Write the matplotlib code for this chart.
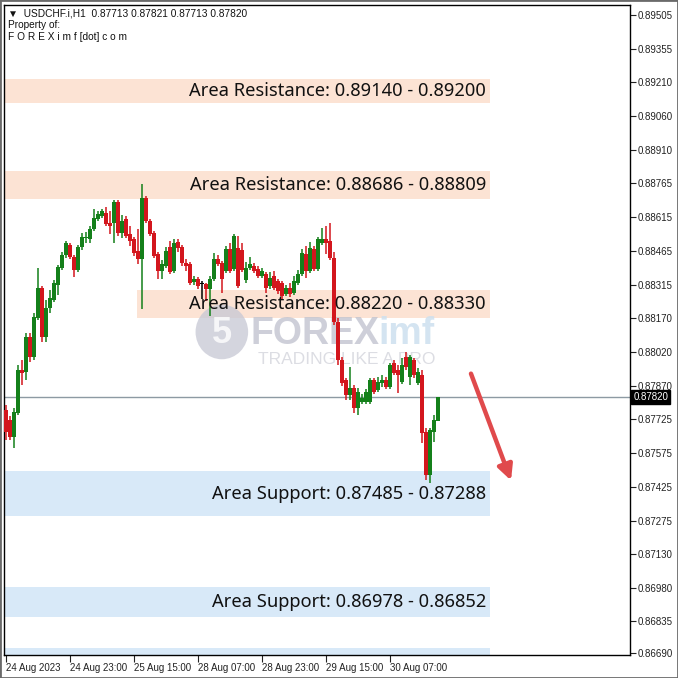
import numpy as np
import matplotlib.pyplot as plt
from matplotlib.patches import Rectangle, Circle
import matplotlib.transforms as mtransforms

# H1 candles, USDCHF, 24 Aug 2023 - 30 Aug 2023
opens = [0.87763, 0.87719, 0.87644, 0.87750, 0.87940, 0.87931, 0.88085, 0.87997, 0.88169, 0.88301,
         0.88085, 0.88213, 0.88248, 0.88314, 0.88389, 0.88447, 0.88491, 0.88438, 0.88381, 0.88482,
         0.88522, 0.88517, 0.88561, 0.88605, 0.88619, 0.88632, 0.88588, 0.88588, 0.88680, 0.88544,
         0.88605, 0.88539, 0.88517, 0.88464, 0.88429, 0.88698, 0.88597, 0.88544, 0.88451, 0.88376,
         0.88398, 0.88482, 0.88376, 0.88504, 0.88482, 0.88411, 0.88407, 0.88328, 0.88341, 0.88319,
         0.88319, 0.88297, 0.88341, 0.88429, 0.88411, 0.88376, 0.88473, 0.88385, 0.88478, 0.88469,
         0.88336, 0.88389, 0.88398, 0.88385, 0.88354, 0.88363, 0.88310, 0.88354, 0.88332, 0.88323,
         0.88275, 0.88301, 0.88279, 0.88323, 0.88363, 0.88451, 0.88376, 0.88473, 0.88385, 0.88500,
         0.88517, 0.88508, 0.88433, 0.88151, 0.87984, 0.87895, 0.87829, 0.87860, 0.87772, 0.87798,
         0.87798, 0.87798, 0.87895, 0.87851, 0.87882, 0.87895, 0.87865, 0.87970, 0.87940, 0.87887,
         0.87997, 0.87909, 0.87984, 0.87882, 0.87917, 0.87666, 0.87476, 0.87666, 0.87713]
highs = [0.87785, 0.87737, 0.87772, 0.87962, 0.87984, 0.88103, 0.88103, 0.88191, 0.88389, 0.88310,
         0.88248, 0.88292, 0.88336, 0.88403, 0.88460, 0.88508, 0.88500, 0.88447, 0.88491, 0.88544,
         0.88548, 0.88575, 0.88650, 0.88641, 0.88650, 0.88658, 0.88641, 0.88689, 0.88689, 0.88623,
         0.88619, 0.88575, 0.88526, 0.88561, 0.88760, 0.88707, 0.88605, 0.88553, 0.88460, 0.88425,
         0.88482, 0.88508, 0.88517, 0.88517, 0.88491, 0.88429, 0.88416, 0.88354, 0.88350, 0.88332,
         0.88323, 0.88354, 0.88455, 0.88447, 0.88420, 0.88486, 0.88500, 0.88539, 0.88530, 0.88500,
         0.88416, 0.88438, 0.88411, 0.88398, 0.88389, 0.88372, 0.88372, 0.88376, 0.88341, 0.88332,
         0.88314, 0.88323, 0.88354, 0.88381, 0.88473, 0.88486, 0.88504, 0.88486, 0.88526, 0.88566,
         0.88575, 0.88588, 0.88460, 0.88169, 0.87997, 0.87904, 0.87953, 0.87873, 0.87860, 0.87834,
         0.87856, 0.87904, 0.87904, 0.87909, 0.87917, 0.87909, 0.87970, 0.87984, 0.87962, 0.87992,
         0.88019, 0.88006, 0.87992, 0.87948, 0.87940, 0.87684, 0.87684, 0.87741, 0.87821]
lows = [0.87631, 0.87631, 0.87596, 0.87741, 0.87873, 0.87895, 0.87975, 0.87984, 0.88160, 0.88063,
        0.88063, 0.88191, 0.88239, 0.88270, 0.88381, 0.88433, 0.88429, 0.88350, 0.88372, 0.88469,
        0.88500, 0.88500, 0.88553, 0.88597, 0.88610, 0.88575, 0.88539, 0.88500, 0.88530, 0.88522,
        0.88522, 0.88486, 0.88442, 0.88407, 0.88208, 0.88588, 0.88530, 0.88433, 0.88341, 0.88341,
        0.88389, 0.88363, 0.88367, 0.88460, 0.88398, 0.88376, 0.88314, 0.88314, 0.88297, 0.88253,
        0.88244, 0.88178, 0.88332, 0.88398, 0.88279, 0.88367, 0.88367, 0.88376, 0.88301, 0.88372,
        0.88323, 0.88381, 0.88367, 0.88345, 0.88345, 0.88279, 0.88297, 0.88292, 0.88275, 0.88253,
        0.88266, 0.88261, 0.88270, 0.88314, 0.88354, 0.88345, 0.88367, 0.88376, 0.88376, 0.88491,
        0.88451, 0.88425, 0.88138, 0.87962, 0.87869, 0.87807, 0.87807, 0.87750, 0.87741, 0.87790,
        0.87790, 0.87790, 0.87834, 0.87842, 0.87865, 0.87856, 0.87856, 0.87917, 0.87838, 0.87878,
        0.87940, 0.87873, 0.87904, 0.87873, 0.87618, 0.87454, 0.87441, 0.87622, 0.87713]
closes = [0.87666, 0.87644, 0.87754, 0.87940, 0.87926, 0.88085, 0.87997, 0.88173, 0.88301, 0.88085,
          0.88213, 0.88257, 0.88323, 0.88394, 0.88447, 0.88500, 0.88438, 0.88381, 0.88482, 0.88526,
          0.88526, 0.88561, 0.88610, 0.88627, 0.88641, 0.88583, 0.88575, 0.88680, 0.88544, 0.88597,
          0.88530, 0.88508, 0.88455, 0.88429, 0.88698, 0.88597, 0.88539, 0.88442, 0.88376, 0.88407,
          0.88464, 0.88372, 0.88500, 0.88478, 0.88411, 0.88398, 0.88323, 0.88341, 0.88310, 0.88319,
          0.88297, 0.88341, 0.88429, 0.88407, 0.88341, 0.88473, 0.88376, 0.88530, 0.88310, 0.88381,
          0.88389, 0.88407, 0.88376, 0.88354, 0.88376, 0.88301, 0.88345, 0.88301, 0.88288, 0.88266,
          0.88301, 0.88275, 0.88332, 0.88363, 0.88455, 0.88376, 0.88478, 0.88385, 0.88517, 0.88517,
          0.88500, 0.88433, 0.88151, 0.87984, 0.87882, 0.87829, 0.87860, 0.87772, 0.87842, 0.87816,
          0.87842, 0.87895, 0.87842, 0.87887, 0.87895, 0.87865, 0.87962, 0.87926, 0.87917, 0.87962,
          0.87953, 0.87997, 0.87917, 0.87931, 0.87662, 0.87476, 0.87675, 0.87719, 0.87820]

time_labels = ["24 Aug 2023", "24 Aug 23:00", "25 Aug 15:00", "28 Aug 07:00",
               "28 Aug 23:00", "29 Aug 15:00", "30 Aug 07:00"]
time_ticks = [0, 16, 32, 48, 64, 80, 96]

price_ticks = [0.89505, 0.89355, 0.89210, 0.89060, 0.88910, 0.88765, 0.88615, 0.88465,
               0.88315, 0.88170, 0.88020, 0.87870, 0.87725, 0.87575, 0.87425, 0.87275,
               0.87130, 0.86980, 0.86835, 0.86690]

# zones drawn on the chart: (bottom, top, label, kind, start bar)
zones = [
    (0.89117, 0.89223, "Area Resistance: 0.89140 - 0.89200", "res", -0.5),
    (0.88693, 0.88817, "Area Resistance: 0.88686 - 0.88809", "res", -0.5),
    (0.88168, 0.88292, "Area Resistance: 0.88220 - 0.88330", "res", 32.75),
    (0.87294, 0.87493, "Area Support: 0.87485 - 0.87288", "sup", -0.5),
    (0.86849, 0.86981, "Area Support: 0.86978 - 0.86852", "sup", -0.5),
    (0.86600, 0.86714, "", "sup", -0.5),
]
zone_end = 121
last_price = 0.87820

GREEN = "#14801a"
RED = "#d3161d"
RES_COLOR = "#fce3d4"
SUP_COLOR = "#d8e9f8"
AXFONT = "Liberation Sans"

fig = plt.figure(figsize=(6.78, 6.78), dpi=100)
ax = fig.add_axes([4 / 678, 23 / 678, 626 / 678, 650 / 678])

for lo, hi, label, kind, x0 in zones:
    col = RES_COLOR if kind == "res" else SUP_COLOR
    ax.add_patch(Rectangle((x0, lo), zone_end - x0, hi - lo, facecolor=col,
                           edgecolor="none", zorder=1))
    if label:
        ax.text(zone_end - 1, (lo + hi) / 2, label, ha="right", va="center",
                fontsize=13.2, family="Noto Sans", color="#111111", zorder=6)

# watermark (logo of the source)
ax.add_patch(Circle((0.348, 0.497), 0.042, transform=ax.transAxes, facecolor="#c6c7d4",
                    edgecolor="none", alpha=0.75, zorder=2))
ax.text(0.348, 0.495, "5", transform=ax.transAxes, fontsize=26, weight="bold",
        family="Liberation Sans", color="white", alpha=0.8, ha="center", va="center",
        zorder=2)
ax.text(0.393, 0.494, "FOREX", transform=ax.transAxes, fontsize=27, weight="bold",
        family="Liberation Sans", color="#c2c4d0", alpha=0.8, ha="left", va="center",
        zorder=2)
ax.text(0.598, 0.494, "imf", transform=ax.transAxes, fontsize=27, weight="bold",
        family="Liberation Sans", color="#cde0ef", alpha=0.85, ha="left", va="center",
        zorder=2)
ax.text(0.406, 0.455, "TRADING LIKE A PRO", transform=ax.transAxes,
        fontsize=12.5, family="Liberation Sans", color="#dcdde3", ha="left", va="center",
        zorder=2)

ax.axhline(last_price, color="#8d9aa3", lw=1, zorder=2.5)

x = np.arange(len(opens))
for i in x:
    o, h, l, c = opens[i], highs[i], lows[i], closes[i]
    if c > o:
        col = GREEN
    elif c < o:
        col = RED
    else:
        col = "black"
    ax.vlines(i, l, h, color=col, lw=1.1, zorder=3)
    body = max(abs(c - o), 0.000025)
    ax.add_patch(Rectangle((i - 0.4, min(o, c)), 0.8, body, facecolor=col,
                           edgecolor="none", zorder=4))

ax.annotate("", xy=(126.5, 0.87441), xytext=(116, 0.87935),
            arrowprops=dict(arrowstyle="-|>,head_length=0.9,head_width=0.45",
                            color="#e04a4c", lw=3.2), zorder=7)

ax.set_xlim(-0.5, 156)
ax.set_ylim(0.86683, 0.89549)

ax.yaxis.tick_right()
ax.set_yticks(price_ticks)
ax.set_yticklabels([f"{p:.5f}" for p in price_ticks], family=AXFONT)
ax.tick_params(axis="y", direction="out", length=4, width=0.8, pad=1.5, labelsize=7,
               colors="#222222")
ax.set_xticks(time_ticks)
ax.set_xticklabels(time_labels, ha="left", family=AXFONT)
ax.tick_params(axis="x", direction="out", length=5, width=0.8, pad=1, labelsize=7,
               colors="#222222")
for s in ax.spines.values():
    s.set_color("black")
    s.set_linewidth(1)

trans = mtransforms.blended_transform_factory(ax.transAxes, ax.transData)
ax.text(1.005, last_price, "0.87820", transform=trans, fontsize=7, color="white",
        family=AXFONT, ha="left", va="center", zorder=8,
        bbox=dict(boxstyle="square,pad=0.2", facecolor="black", edgecolor="black"))

fig.text(8 / 678, 1 - 13 / 678, "\u25bc  USDCHF.i,H1  0.87713 0.87821 0.87713 0.87820",
         fontsize=7.3, family=["Liberation Sans", "DejaVu Sans"], va="center", ha="left",
         color="#111111")
fig.text(8 / 678, 1 - 25 / 678, "Property of:", fontsize=7.3, family=AXFONT,
         va="center", ha="left", color="#111111")
fig.text(8 / 678, 1 - 37 / 678, "F O R E X i m f [dot] c o m", fontsize=7.3, family=AXFONT,
         va="center", ha="left", color="#111111")

# outer window frame
fig.patches.append(Rectangle((0, 0), 1, 1, transform=fig.transFigure, fill=False,
                             edgecolor="#6a6a6a", lw=2))

plt.savefig("out.png", dpi=100)
